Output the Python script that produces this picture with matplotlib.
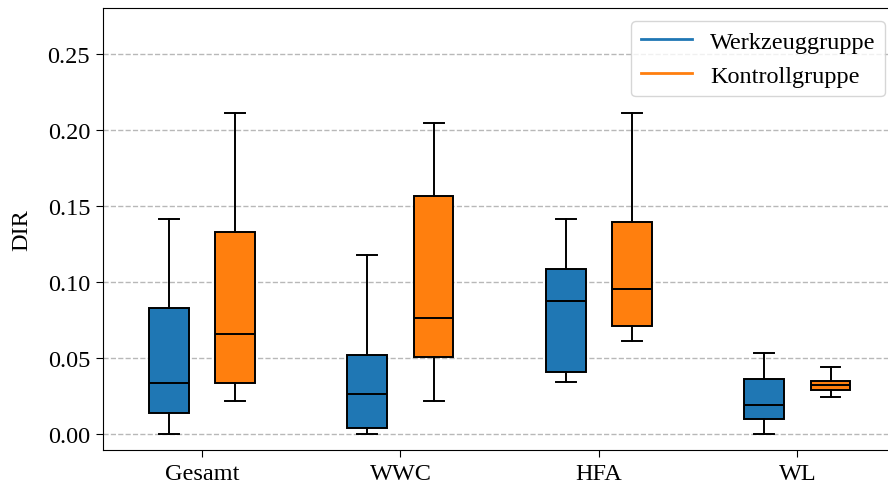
import matplotlib
matplotlib.use('Agg')
import matplotlib.pyplot as plt
from matplotlib.lines import Line2D

plt.rcParams['font.family'] = ['Liberation Serif', 'DejaVu Serif']
plt.rcParams['font.size'] = 17.5

categories = ['Gesamt', 'WWC', 'HFA', 'WL']
groups = ['Werkzeuggruppe', 'Kontrollgruppe']
colors = ['#1f77b4', '#ff7f0e']

# five-number summaries per category: (whislo, q1, med, q3, whishi)
werkzeug = [
  (0.0, 0.0142, 0.0340, 0.0831, 0.1420),
  (0.0, 0.0044, 0.0263, 0.0524, 0.1182),
  (0.0342, 0.0410, 0.0879, 0.1089, 0.1418),
  (0.0, 0.0099, 0.0191, 0.0364, 0.0535),
]
kontroll = [
  (0.0217, 0.0335, 0.0662, 0.1329, 0.2114),
  (0.0217, 0.0508, 0.0763, 0.1566, 0.2050),
  (0.0614, 0.0714, 0.0954, 0.1397, 0.2114),
  (0.0245, 0.0291, 0.0322, 0.0351, 0.0441),
]


def stats(rows):
  return [dict(whislo=r[0], q1=r[1], med=r[2], q3=r[3], whishi=r[4], fliers=[]) for r in rows]


fig = plt.figure(figsize=(8.88, 4.89), dpi=100)
ax = fig.add_axes([0.1157, 0.0777, 0.894, 0.9039])

offset = 0.167
width = 0.2
for i, (rows, col) in enumerate(zip([werkzeug, kontroll], colors)):
  pos = [k + (i * 2 - 1) * offset for k in range(len(categories))]
  ax.bxp(stats(rows), positions=pos, widths=width, patch_artist=True,
         showfliers=False,
         boxprops=dict(facecolor=col, edgecolor='black', linewidth=1.4),
         medianprops=dict(color='black', linewidth=1.4),
         whiskerprops=dict(color='black', linewidth=1.4),
         capprops=dict(color='black', linewidth=1.4))

ax.set_xticks(range(len(categories)))
ax.set_xticklabels(categories)
ax.set_xlim(-0.5, 3.5)
ax.set_ylim(-0.0103, 0.2805)
ax.set_yticks([0.0, 0.05, 0.10, 0.15, 0.20, 0.25])
ax.set_yticklabels(['%.2f' % v for v in [0.0, 0.05, 0.10, 0.15, 0.20, 0.25]])
ax.yaxis.grid(True, linestyle='--', color='#b8b8b8', linewidth=1)
ax.set_axisbelow(True)
ax.set_ylabel('DIR', labelpad=11)
ax.tick_params(length=5, pad=4)

handles = [Line2D([0], [0], color=c, linewidth=2) for c in colors]
ax.legend(handles, groups, loc='upper right', bbox_to_anchor=(0.9854, 0.971),
          borderaxespad=0, fontsize=17.5, handlelength=2.1, handletextpad=0.75)

fig.savefig('out.png', dpi=100)
